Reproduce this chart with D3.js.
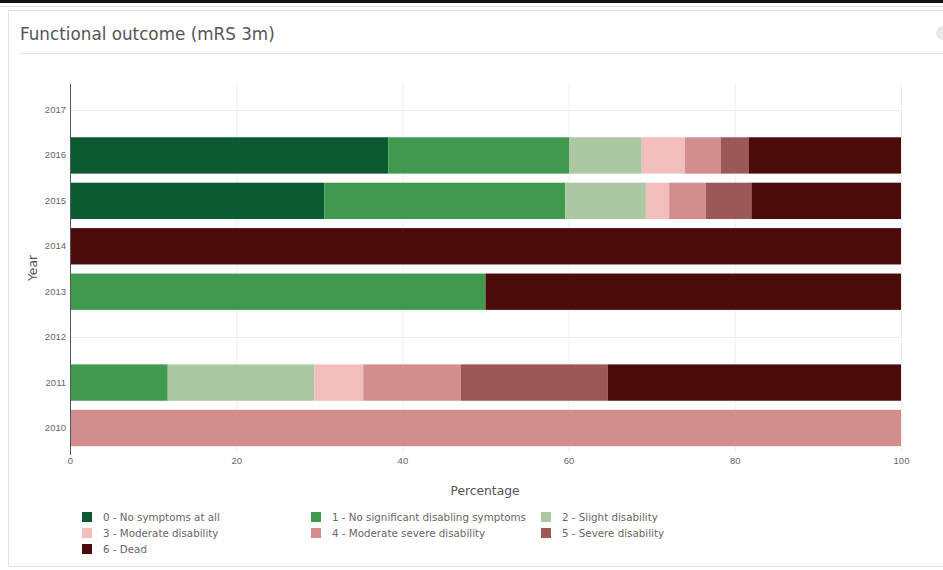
<!DOCTYPE html>
<html>
<head>
<meta charset="utf-8">
<script src="https://cdn.jsdelivr.net/npm/d3@7"></script>
<style>
  html, body { margin: 0; padding: 0; background: #fff; }
  body { width: 943px; height: 570px; overflow: hidden; font-family: "DejaVu Sans", Verdana, sans-serif; }
  .axis text { fill: #666; font-size: 9.5px; }
</style>
</head>
<body>
<svg id="chart" width="943" height="570"></svg>
<script>
var years = ["2010", "2011", "2012", "2013", "2014", "2015", "2016", "2017"];
var levels = ["0 - No symptoms at all", "1 - No significant disabling symptoms", "2 - Slight disability",
  "3 - Moderate disability", "4 - Moderate severe disability", "5 - Severe disability", "6 - Dead"];
var colors = ["#0b5a31", "#3f9a4f", "#acc8a3", "#f1bdbd", "#d38d8d", "#9c5757", "#4b0b0b"];
var xTicks = [0, 20, 40, 60, 80, 100];

// percentage per mRS level, one array per level, in the order of years
var mrs0 = [0, 0, 0, 0, 0, 30.6, 38.3, 0];
var mrs1 = [0, 11.76, 0, 50, 0, 29.0, 21.8, 0];
var mrs2 = [0, 17.65, 0, 0, 0, 9.7, 8.7, 0];
var mrs3 = [0, 5.88, 0, 0, 0, 2.8, 5.2, 0];
var mrs4 = [100, 11.76, 0, 0, 0, 4.4, 4.3, 0];
var mrs5 = [0, 17.65, 0, 0, 0, 5.5, 3.4, 0];
var mrs6 = [0, 35.3, 0, 50, 100, 18.0, 18.3, 0];

(function() {
  var series = [mrs0, mrs1, mrs2, mrs3, mrs4, mrs5, mrs6];
  var svg = d3.select("#chart");

  // page frame
  svg.append("rect").attr("x", 0).attr("y", 0).attr("width", 943).attr("height", 3).style("fill", "#111");
  svg.append("line").attr("x1", 0).attr("x2", 943).attr("y1", 6.5).attr("y2", 6.5)
    .style("stroke", "#ddd");
  svg.append("rect").attr("x", 8.5).attr("y", 10.5).attr("width", 940).attr("height", 556)
    .style("fill", "#fff").style("stroke", "#e2e2e2");
  svg.append("line").attr("x1", 20).attr("x2", 943).attr("y1", 53.5).attr("y2", 53.5)
    .style("stroke", "#e6e6e6");
  svg.append("circle").attr("cx", 943).attr("cy", 33).attr("r", 7).style("fill", "#e8e8e8");

  svg.append("text").attr("x", 20).attr("y", 40)
    .text("Functional outcome (mRS 3m)")
    .style("fill", "#555").style("font-size", "16.8px");

  var x = d3.scaleLinear().domain([0, 100]).range([70, 901]);
  var y = d3.scaleBand().domain(years).range([450.7, 87.3]).paddingInner(0.2).paddingOuter(0.1);

  // gridlines
  svg.append("g").selectAll("line").data(xTicks.slice(1)).join("line")
    .attr("x1", function(d) { return x(d) + 0.5; }).attr("x2", function(d) { return x(d) + 0.5; })
    .attr("y1", 85).attr("y2", 452)
    .style("stroke", "#eee");
  svg.append("g").selectAll("line").data(years).join("line")
    .attr("x1", 70).attr("x2", 901)
    .attr("y1", function(d) { return Math.round(y(d) + y.bandwidth() / 2) + 0.5; })
    .attr("y2", function(d) { return Math.round(y(d) + y.bandwidth() / 2) + 0.5; })
    .style("stroke", "#eee");

  // stacked bars
  var rows = years.map(function(yr, i) {
    var row = { year: yr };
    levels.forEach(function(l, k) { row[k] = series[k][i]; });
    return row;
  });
  var stack = d3.stack().keys(d3.range(levels.length))(rows);

  svg.append("g").selectAll("g").data(stack).join("g")
    .style("fill", function(d) { return colors[d.key]; })
    .selectAll("rect").data(function(d) { return d; }).join("rect")
      .attr("x", function(d) { return x(d[0]); })
      .attr("y", function(d) { return y(d.data.year); })
      .attr("width", function(d) { return x(d[1]) - x(d[0]); })
      .attr("height", y.bandwidth());

  // axes
  var xAxis = svg.append("g").attr("class", "axis").attr("transform", "translate(0,451)")
    .call(d3.axisBottom(x).tickValues(xTicks).tickSize(0).tickPadding(6));
  xAxis.select(".domain").remove();

  var yAxis = svg.append("g").attr("class", "axis").attr("transform", "translate(70,0)")
    .call(d3.axisLeft(y).tickSize(0).tickPadding(4));
  yAxis.select(".domain").remove();
  svg.append("line").attr("x1", 70.5).attr("x2", 70.5).attr("y1", 84).attr("y2", 455)
    .style("stroke", "#555");

  svg.append("text").attr("x", 485).attr("y", 495).attr("text-anchor", "middle")
    .text("Percentage").style("fill", "#555").style("font-size", "12.3px");
  svg.append("text").attr("transform", "translate(37,268) rotate(-90)").attr("text-anchor", "middle")
    .text("Year").style("fill", "#555").style("font-size", "12.3px");

  // legend
  var colX = [82, 311, 541];
  var legend = svg.append("g").selectAll("g").data(levels).join("g")
    .attr("transform", function(d, i) {
      return "translate(" + colX[i % 3] + "," + (512 + Math.floor(i / 3) * 16) + ")";
    });
  legend.append("rect").attr("width", 10).attr("height", 10)
    .style("fill", function(d, i) { return colors[i]; });
  legend.append("text").attr("x", 21).attr("y", 9)
    .text(function(d) { return d; })
    .style("fill", "#666").style("font-size", "10.3px");
})();
</script>
</body>
</html>
